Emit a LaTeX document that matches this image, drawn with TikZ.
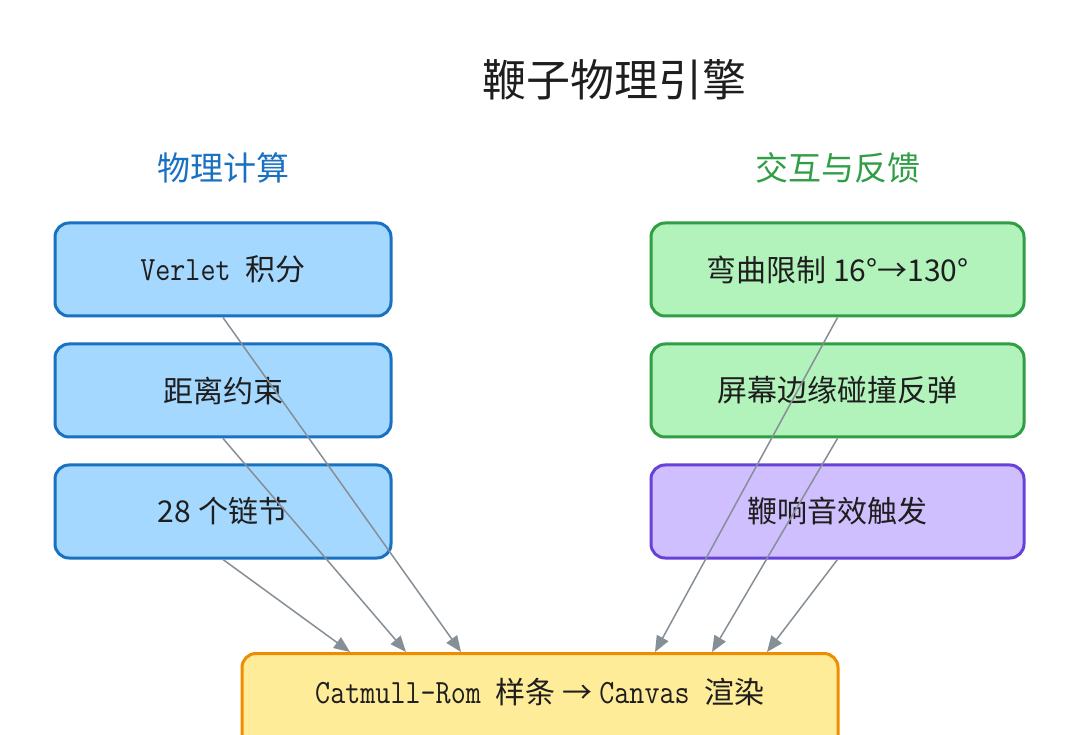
\documentclass[tikz,border=0pt]{standalone}
\usepackage{fontspec}
\setmainfont{Noto Sans CJK SC}
\newfontfamily\cjk{Noto Sans CJK SC}
\usetikzlibrary{arrows.meta,calc}
\definecolor{bluefill}{HTML}{A5D8FF}
\definecolor{bluedraw}{HTML}{1971C2}
\definecolor{greenfill}{HTML}{B2F2BB}
\definecolor{greendraw}{HTML}{2F9E44}
\definecolor{purplefill}{HTML}{D0BFFF}
\definecolor{purpledraw}{HTML}{6741D9}
\definecolor{yellowfill}{HTML}{FFEC99}
\definecolor{yellowdraw}{HTML}{F08C00}
\definecolor{txt}{HTML}{1E1E1E}
\definecolor{arrowgrey}{HTML}{868E96}
\newcommand{\monotxt}[1]{\scalebox{0.86}[1]{\ttfamily\fontsize{34}{36}\selectfont #1}}
\tikzset{
  boxbase/.style={rectangle, rounded corners=14pt, line width=3pt, minimum width=336pt, minimum height=93pt, inner sep=0pt, text=txt, font=\cjk\fontsize{30}{34}\selectfont},
  lbox/.style={boxbase, fill=bluefill, draw=bluedraw},
  gbox/.style={boxbase, fill=greenfill, draw=greendraw, minimum width=373pt},
  pbox/.style={boxbase, fill=purplefill, draw=purpledraw, minimum width=373pt},
  ybox/.style={rectangle, rounded corners=14pt, line width=3pt, fill=yellowfill, draw=yellowdraw, minimum width=596pt, minimum height=140pt, inner sep=0pt},
  conn/.style={draw=arrowgrey, line width=1.5pt, -{Triangle[length=16pt,width=13pt,fill=arrowgrey]}}
}
\begin{document}
\begin{tikzpicture}[x=1pt,y=-1pt]
\useasboundingbox (0,0) rectangle (1080,735);
\clip (0,0) rectangle (1080,735);
\fill[white] (0,0) rectangle (1080,735);

\node[text=txt, font=\cjk\fontsize{44}{50}\selectfont] (title) at (614,80) {鞭子物理引擎};
\node[text=bluedraw, font=\cjk\fontsize{33}{38}\selectfont] (lhead) at (223,168) {物理计算};
\node[text=greendraw, font=\cjk\fontsize{33}{38}\selectfont] (rhead) at (838,168) {交互与反馈};

\node[lbox] (l1) at (223,269.5) {\monotxt{Verlet }积分};
\node[lbox] (l2) at (223,390.5) {距离约束};
\node[lbox] (l3) at (223,511.5) {28 个链节};

\node[gbox] (r1) at (837.5,269.5) {弯曲限制 16°→130°};
\node[gbox] (r2) at (837.5,390.5) {屏幕边缘碰撞反弹};
\node[pbox] (r3) at (837.5,511.5) {鞭响音效触发};

\node[ybox, anchor=north] (bot) at (540,652) {};
\node[text=txt, font=\cjk\fontsize{30}{34}\selectfont] (bottxt) at (540,692) {\monotxt{Catmull-Rom }样条 → \monotxt{Canvas }渲染};

\coordinate (b1) at ($(bot.north)+(-190,0)$);
\coordinate (b2) at ($(bot.north)+(-134,0)$);
\coordinate (b3) at ($(bot.north)+(-79,0)$);
\coordinate (b4) at ($(bot.north)+(115,0)$);
\coordinate (b5) at ($(bot.north)+(172,0)$);
\coordinate (b6) at ($(bot.north)+(227,0)$);

\draw[conn] (l1.south) -- (b3);
\draw[conn] (l2.south) -- (b2);
\draw[conn] (l3.south) -- (b1);
\draw[conn] (r1.south) -- (b4);
\draw[conn] (r2.south) -- (b5);
\draw[conn] (r3.south) -- (b6);
\end{tikzpicture}
\end{document}
